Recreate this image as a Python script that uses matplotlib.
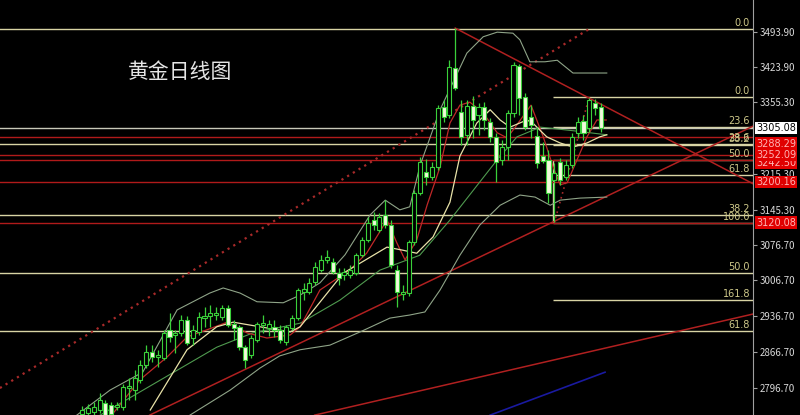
import matplotlib.pyplot as plt
import numpy as np

plt.rcParams['font.family'] = ['Noto Sans CJK SC', 'DejaVu Sans']

# daily gold candles (price)
opens = [2745, 2747, 2749, 2753, 2767, 2763, 2759, 2759, 2796, 2792,
         2812, 2841, 2867, 2857, 2855, 2910, 2900, 2904, 2929, 2894,
         2906, 2933, 2937, 2939, 2935, 2953, 2920, 2916, 2876, 2861,
         2890, 2920, 2914, 2916, 2910, 2886, 2914, 2933, 2984, 2984,
         3004, 3027, 3047, 3043, 3021, 3017, 3017, 3021, 3057, 3086,
         3125, 3106, 3135, 3115, 3027, 2980, 2982, 3082, 3178, 3219,
         3209, 3229, 3345, 3331, 3423, 3337, 3292, 3348, 3331, 3346,
         3317, 3288, 3243, 3268, 3335, 3427, 3366, 3327, 3290, 3250,
         3243, 3204, 3239, 3209, 3233, 3296, 3319, 3305, 3354, 3345]
closes = [2753, 2757, 2759, 2773, 2743, 2745, 2763, 2798, 2800, 2816,
          2841, 2867, 2857, 2861, 2904, 2896, 2904, 2929, 2884, 2910,
          2935, 2937, 2943, 2943, 2953, 2920, 2914, 2876, 2851, 2894,
          2920, 2923, 2920, 2910, 2890, 2916, 2933, 2988, 2990, 3002,
          3033, 3047, 3053, 3023, 3012, 3023, 3027, 3057, 3086, 3119,
          3115, 3131, 3115, 3037, 2984, 2984, 3082, 3178, 3239, 3209,
          3229, 3343, 3327, 3425, 3384, 3288, 3348, 3321, 3345, 3321,
          3288, 3239, 3268, 3335, 3429, 3364, 3307, 3311, 3237, 3241,
          3178, 3217, 3204, 3233, 3288, 3317, 3296, 3360, 3345, 3305.08]
highs = [2761, 2765, 2769, 2786, 2773, 2769, 2769, 2804, 2816, 2831,
         2851, 2880, 2880, 2871, 2910, 2943, 2910, 2939, 2937, 2920,
         2945, 2955, 2959, 2955, 2959, 2959, 2929, 2920, 2880, 2900,
         2925, 2939, 2929, 2929, 2920, 2920, 2939, 2992, 3002, 3012,
         3043, 3057, 3066, 3051, 3031, 3031, 3037, 3060, 3092, 3131,
         3141, 3139, 3164, 3125, 3037, 2998, 3086, 3184, 3249, 3245,
         3239, 3350, 3360, 3439, 3501, 3360, 3360, 3368, 3354, 3356,
         3325, 3296, 3282, 3341, 3435, 3431, 3374, 3350, 3307, 3278,
         3262, 3237, 3247, 3243, 3296, 3327, 3331, 3365, 3362, 3354]
lows = [2737, 2741, 2743, 2747, 2737, 2739, 2753, 2753, 2773, 2773,
        2806, 2835, 2847, 2837, 2851, 2886, 2865, 2898, 2880, 2880,
        2900, 2916, 2916, 2929, 2929, 2916, 2890, 2871, 2835, 2855,
        2886, 2904, 2898, 2896, 2884, 2880, 2910, 2929, 2968, 2980,
        2998, 3023, 3041, 3019, 2998, 3008, 3012, 3017, 3053, 3082,
        3106, 3102, 3110, 3031, 2955, 2968, 2976, 3076, 3174, 3194,
        3204, 3223, 3317, 3325, 3380, 3272, 3272, 3286, 3292, 3301,
        3278, 3200, 3233, 3243, 3327, 3331, 3301, 3286, 3227, 3237,
        3158, 3121, 3194, 3204, 3227, 3286, 3282, 3298, 3331, 3298]

bb_up_x = [-0.9, 4.8, 10.4, 16.3, 21.9, 24.2, 27.1, 30.0, 34.5, 37.4, 40.8, 45.1,
           49.4, 52.0, 54.5, 56.2, 58.0, 61.4, 66.0, 68.8, 71.2, 73.9, 75.1, 76.8,
           79.4, 81.5, 84.2, 87.1, 90.0]
bb_up_y = [2743, 2792, 2827, 2949, 2982, 2992, 2982, 2965, 2963, 2978, 3002, 3057,
           3135, 3164, 3145, 3151, 3233, 3341, 3452, 3484, 3493, 3491, 3478, 3435,
           3435, 3438, 3413, 3413, 3413]
bb_dn_x = [18.5, 25.4, 30.5, 33.9, 37.4, 42.5, 47.7, 52.8, 56.2, 58.8, 61.4, 64.8,
           68.2, 71.7, 75.1, 77.7, 80.3, 82.0, 85.4, 90.0]
bb_dn_y = [2743, 2792, 2835, 2859, 2871, 2880, 2906, 2933, 2939, 2945, 2988, 3056,
           3115, 3154, 3174, 3170, 3154, 3164, 3168, 3170]
bb_mid_x = [3.1, 23.1, 29.3, 37.4, 44.2, 51.1, 57.9, 63.1, 71.2, 74.6, 78.6, 84.2, 90.0]
bb_mid_y = [2743, 2876, 2904, 2923, 2968, 3027, 3056, 3125, 3243, 3288, 3307, 3300, 3292]
ma_red_x = [4.8, 9.9, 14.6, 18.0, 21.4, 24.9, 28.3, 31.7, 35.7, 37.4, 40.8, 45.9,
            48.8, 52.3, 54.0, 55.4, 57.4, 59.2, 61.4, 63.1, 64.8, 66.5, 68.8, 71.2,
            72.9, 74.3, 77.0, 79.1, 80.8, 82.0, 83.2, 84.9, 86.6, 88.3, 89.9]
ma_red_y = [2739, 2812, 2857, 2896, 2910, 2925, 2904, 2894, 2900, 2916, 2988, 3027,
            3060, 3125, 3080, 3047, 3086, 3155, 3229, 3315, 3350, 3356, 3335, 3296,
            3286, 3307, 3350, 3288, 3229, 3194, 3198, 3243, 3288, 3321, 3321]
ma_yel_x = [11.7, 18.0, 23.1, 25.9, 30.5, 35.7, 37.4, 44.8, 52.3, 55.0, 57.4, 60.2,
            63.1, 64.8, 67.7, 70.0, 71.7, 73.4, 76.3, 77.3, 79.7, 82.0, 84.2, 86.6,
            88.8, 90.0]
ma_yel_y = [2753, 2871, 2916, 2925, 2916, 2906, 2916, 3021, 3072, 3066, 3060, 3092,
            3160, 3250, 3315, 3341, 3321, 3307, 3321, 3315, 3288, 3276, 3268, 3276,
            3288, 3292]

# fibonacci levels: set A spans the whole chart, set B starts at bar 81
fibA_lv = ['0.0', '23.6', '38.2', '50.0', '61.8']
fibA_px = [3500.0, 3274.0, 3134.0, 3021.0, 2908.0]
fibB_lv = ['0.0', '23.6', '38.2', '50.0', '61.8', '100.0', '161.8']
fibB_px = [3366.0, 3308.0, 3272.0, 3243.0, 3214.0, 3120.0, 2968.0]
fibB_start = 81

# red horizontal support / resistance lines (drawn bottom label first)
red_lv = [3242.50, 3252.09, 3288.29, 3200.16, 3120.08]
bid = 3305.08

ticks = [3493.90, 3423.90, 3355.30, 3215.30, 3145.30, 3076.70, 3006.70, 2936.70,
         2866.70, 2796.70]

fig = plt.figure(figsize=(8, 4.15), dpi=100, facecolor='black')
ax = fig.add_axes([0, 0, 753 / 800, 1])
ax.set_facecolor('black')
ax.set_xlim(-14.08, 115.08)
ax.set_ylim(2743.2, 3556)

fib_col = '#d8d4a4'
lab_col = '#cfc98a'
yax = ax.get_yaxis_transform()

for p in fibA_px:
    ax.axhline(p, color=fib_col, lw=1, zorder=1)
for p in fibB_px:
    ax.hlines(p, fibB_start - 0.2, 115.08, color=fib_col, lw=1, zorder=1)
ax.vlines(fibB_start - 0.2, fibB_px[5], fibB_px[3], color=fib_col, lw=1, zorder=1)
for lv, p in zip(fibA_lv + fibB_lv, fibA_px + fibB_px):
    ax.text(0.996, p + 2, lv, transform=yax, ha='right', va='bottom',
            color=lab_col, fontsize=7, family='DejaVu Sans')
for p in red_lv:
    ax.axhline(p, color='#b01a1a', lw=1, zorder=1)
ax.axhline(bid, color='#c8c8b8', lw=1, zorder=1)

# trend lines
ax.plot([-14.1, 87.1], [2796, 3500], color='#a82a2a', lw=1.6, ls=(0, (1, 2)), zorder=1)
ax.plot([81, 87], [3120, 3366], color='#a82a2a', lw=1.2, ls=(0, (1, 2)), zorder=1)
ax.plot([64, 115.1], [3501, 3196], color='#b02020', lw=1.1, zorder=1)
ax.plot([11.6, 115.1], [2743, 3309], color='#b02020', lw=1.1, zorder=1)
ax.plot([39.9, 115.1], [2743, 2941], color='#b02020', lw=1.1, zorder=1)
ax.plot([70, 89.7], [2743, 2827], color='#1a1aa0', lw=1.2, zorder=1)

# indicators
ax.plot(bb_up_x, bb_up_y, color='#8fa488', lw=0.8, zorder=2)
ax.plot(bb_dn_x, bb_dn_y, color='#8fa488', lw=0.8, zorder=2)
ax.plot(bb_mid_x, bb_mid_y, color='#4f9a4f', lw=0.8, zorder=2)
ax.plot(ma_red_x, ma_red_y, color='#c02828', lw=0.9, zorder=2)
ax.plot(ma_yel_x, ma_yel_y, color='#e8e2a8', lw=0.9, zorder=2)

# candles
o = np.array(opens); c = np.array(closes)
xs = np.arange(len(o))
ax.vlines(xs, lows, highs, color='#3ad03a', lw=0.9, zorder=3)
up = c >= o
ax.bar(xs, np.abs(c - o) + 0.5, bottom=np.minimum(o, c), width=0.7,
       color=np.where(up, 'black', '#f2fadc'), edgecolor='#3ad03a', lw=0.8, zorder=4)

# right price scale
ax.spines[['left', 'top', 'bottom']].set_visible(False)
ax.spines['right'].set_color('#a0a0a0')
ax.yaxis.tick_right()
ax.set_yticks(ticks, [f'{t:.2f}' for t in ticks])
ax.tick_params(axis='y', colors='#a0a0a0', labelcolor='#d8d8d8', labelsize=7,
               length=3, pad=2)
ax.set_xticks([])

# price tags on the scale; the 3288.29 tag sits just under the bid tag
tag_shift = {3288.29: -5, 3242.50: -2}
for p in red_lv:
    ax.annotate(f'{p:.2f}', xy=(1.004, p), xycoords=yax,
                xytext=(0, tag_shift.get(p, 0)), textcoords='offset points',
                ha='left', va='center', fontsize=7, color='#ffb4b4',
                family='DejaVu Sans', annotation_clip=False,
                bbox=dict(boxstyle='square,pad=0.12', fc='#e00000', ec='none'))
ax.annotate(f'{bid:.2f}', xy=(1.004, bid), xycoords=yax, ha='left', va='center',
            fontsize=7, color='black', family='DejaVu Sans', annotation_clip=False,
            bbox=dict(boxstyle='square,pad=0.12', fc='white', ec='none'))

fig.text(128 / 800, 1 - 72 / 415, '黄金日线图', color='#e6e6e6', fontsize=15,
         va='center', ha='left')

fig.savefig('out.png', dpi=100, facecolor='black')
